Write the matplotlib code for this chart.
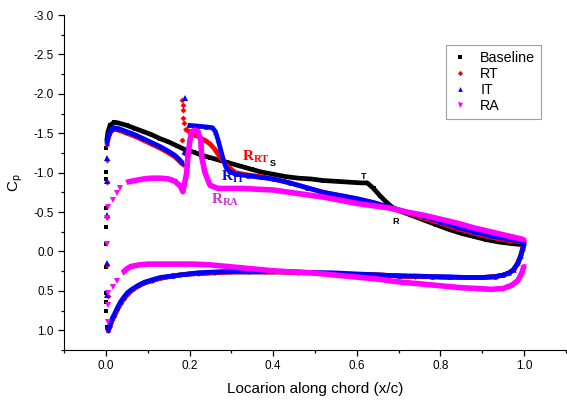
import numpy as np
import matplotlib
matplotlib.use("Agg")
import matplotlib.pyplot as plt
from matplotlib.ticker import MultipleLocator

plt.rcParams['font.family'] = ['Liberation Sans', 'DejaVu Sans']
plt.rcParams['mathtext.fontset'] = 'custom'
plt.rcParams['mathtext.rm'] = 'Liberation Serif'
plt.rcParams['mathtext.bf'] = 'Liberation Serif:bold'

# ---- Baseline ----
base_up_x = [0.002, 0.005, 0.01, 0.02, 0.03, 0.05, 0.07, 0.09, 0.11, 0.13, 0.15, 0.17, 0.19, 0.21,
             0.23, 0.25, 0.27, 0.29, 0.31, 0.33, 0.35, 0.37, 0.40, 0.43, 0.46, 0.49, 0.52, 0.55,
             0.58, 0.61, 0.625, 0.64, 0.655, 0.67, 0.685, 0.70, 0.73, 0.76, 0.79, 0.82, 0.85,
             0.88, 0.91, 0.94, 0.97, 0.99, 1.0]
base_up_cp = [-1.40, -1.52, -1.60, -1.64, -1.63, -1.60, -1.56, -1.52, -1.48, -1.43, -1.39, -1.34,
              -1.29, -1.26, -1.22, -1.19, -1.16, -1.13, -1.10, -1.07, -1.04, -1.01, -0.98, -0.95,
              -0.93, -0.92, -0.90, -0.89, -0.88, -0.87, -0.87, -0.80, -0.71, -0.63, -0.56, -0.52,
              -0.46, -0.40, -0.34, -0.28, -0.23, -0.19, -0.15, -0.12, -0.10, -0.09, -0.09]
base_lo_x = [0.003, 0.006, 0.01, 0.015, 0.02, 0.027, 0.035, 0.043, 0.052, 0.062, 0.077, 0.092,
             0.11, 0.13, 0.16, 0.19, 0.22, 0.26, 0.30, 0.34, 0.38, 0.42, 0.46, 0.50, 0.54, 0.58,
             0.62, 0.66, 0.70, 0.74, 0.78, 0.82, 0.86, 0.90, 0.93, 0.95, 0.965, 0.975, 0.985,
             0.992, 0.997, 1.0]
base_lo_cp = [0.96, 1.00, 0.94, 0.87, 0.82, 0.74, 0.66, 0.60, 0.54, 0.49, 0.44, 0.40, 0.37, 0.34,
              0.31, 0.29, 0.28, 0.27, 0.26, 0.26, 0.26, 0.26, 0.27, 0.27, 0.28, 0.29, 0.29, 0.30,
              0.31, 0.32, 0.32, 0.33, 0.33, 0.33, 0.32, 0.30, 0.27, 0.23, 0.15, 0.06, -0.03, -0.09]
base_le_x = [0.0, 0.0, 0.0, 0.0, 0.0, 0.0, 0.0, 0.0, 0.001, 0.001]
base_le_cp = [-1.31, -1.01, -0.92, -0.55, -0.31, -0.10, 0.20, 0.53, 0.64, 0.75]

# ---- RT ----
rt_up1_x = [0.002, 0.008, 0.015, 0.02, 0.03, 0.05, 0.07, 0.09, 0.11, 0.13, 0.15, 0.165, 0.175, 0.184]
rt_up1_cp = [-1.35, -1.48, -1.54, -1.55, -1.54, -1.50, -1.46, -1.41, -1.36, -1.31, -1.25, -1.20,
             -1.15, -1.10]
rt_up2_x = [0.19, 0.20, 0.21, 0.22, 0.23, 0.24, 0.25, 0.26, 0.27, 0.28, 0.29, 0.30, 0.31,
            0.34, 0.37, 0.40, 0.44, 0.48, 0.52, 0.56, 0.60, 0.64, 0.68, 0.72, 0.76, 0.80, 0.84,
            0.88, 0.92, 0.96, 1.0]
rt_up2_cp = [-1.55, -1.52, -1.48, -1.46, -1.43, -1.40, -1.36, -1.30, -1.22, -1.15, -1.09, -1.04,
             -1.00, -0.97, -0.95, -0.92, -0.87, -0.81, -0.75, -0.71, -0.67, -0.62, -0.55, -0.49,
             -0.42, -0.36, -0.29, -0.23, -0.18, -0.14, -0.12]
rt_lo_x = [0.003, 0.006, 0.01, 0.015, 0.02, 0.027, 0.035, 0.043, 0.052, 0.062, 0.077, 0.092,
           0.11, 0.13, 0.16, 0.19, 0.22, 0.26, 0.30, 0.34, 0.38, 0.42, 0.46, 0.50, 0.54, 0.58,
           0.62, 0.66, 0.70, 0.74, 0.78, 0.82, 0.86, 0.90, 0.93, 0.95, 0.965, 0.975, 0.985,
           0.992, 0.997, 1.0]
rt_lo_cp = [0.97, 1.01, 0.95, 0.87, 0.82, 0.74, 0.66, 0.60, 0.54, 0.49, 0.44, 0.40, 0.37, 0.34,
            0.31, 0.29, 0.28, 0.27, 0.26, 0.26, 0.26, 0.26, 0.27, 0.27, 0.28, 0.29, 0.29, 0.30,
            0.31, 0.32, 0.32, 0.33, 0.33, 0.33, 0.32, 0.30, 0.27, 0.23, 0.15, 0.05, -0.05, -0.14]
rt_sc_x = [0.002, 0.002, 0.002, 0.003, 0.004, 0.183, 0.184, 0.184, 0.185, 0.186, 0.181, 0.187]
rt_sc_cp = [-1.16, -0.88, -0.44, 0.17, 0.57, -1.92, -1.86, -1.79, -1.69, -1.63, -1.41, -1.25]

# ---- IT ----
it_up1_x = [0.002, 0.008, 0.015, 0.02, 0.03, 0.05, 0.07, 0.09, 0.11, 0.13, 0.15, 0.165, 0.175, 0.184]
it_up1_cp = [-1.37, -1.50, -1.56, -1.57, -1.56, -1.52, -1.48, -1.43, -1.38, -1.33, -1.27, -1.22,
             -1.17, -1.12]
it_up2_x = [0.196, 0.20, 0.22, 0.24, 0.255, 0.262, 0.268, 0.274, 0.28, 0.287, 0.295,
            0.31, 0.34, 0.37, 0.40, 0.44, 0.48, 0.52, 0.56, 0.60, 0.64, 0.68, 0.72, 0.76, 0.80,
            0.84, 0.88, 0.92, 0.96, 1.0]
it_up2_cp = [-1.60, -1.60, -1.59, -1.58, -1.57, -1.52, -1.42, -1.30, -1.18, -1.07, -1.02, -0.98,
             -0.96, -0.94, -0.92, -0.87, -0.81, -0.75, -0.71, -0.67, -0.62, -0.56, -0.50, -0.44,
             -0.38, -0.31, -0.25, -0.20, -0.16, -0.12]
it_lo_x = [0.003, 0.006, 0.01, 0.015, 0.02, 0.027, 0.035, 0.043, 0.052, 0.062, 0.077, 0.092,
           0.11, 0.13, 0.16, 0.19, 0.22, 0.26, 0.30, 0.34, 0.38, 0.42, 0.46, 0.50, 0.54, 0.58,
           0.62, 0.66, 0.70, 0.74, 0.78, 0.82, 0.86, 0.90, 0.93, 0.95, 0.965, 0.975, 0.985,
           0.992, 0.997, 1.0]
it_lo_cp = [0.95, 0.99, 0.93, 0.85, 0.80, 0.72, 0.64, 0.58, 0.52, 0.48, 0.43, 0.39, 0.36, 0.33,
            0.31, 0.29, 0.27, 0.26, 0.25, 0.25, 0.25, 0.25, 0.26, 0.27, 0.27, 0.28, 0.29, 0.30,
            0.31, 0.31, 0.32, 0.32, 0.33, 0.33, 0.32, 0.30, 0.27, 0.23, 0.15, 0.06, -0.04, -0.12]
it_sc_x = [0.002, 0.002, 0.002, 0.002, 0.002, 0.189, 0.190]
it_sc_cp = [-1.18, -0.90, -0.46, 0.15, 0.55, -1.26, -1.95]

# ---- RA ----
ra_up_x = [0.05, 0.07, 0.09, 0.11, 0.13, 0.15, 0.165, 0.178, 0.184, 0.193, 0.196, 0.201, 0.205,
           0.213, 0.220, 0.227, 0.229, 0.237, 0.249, 0.268, 0.30, 0.33, 0.36, 0.40, 0.44, 0.48,
           0.52, 0.56, 0.60, 0.64, 0.68, 0.72, 0.76, 0.80, 0.84, 0.88, 0.92, 0.96, 1.0]
ra_up_cp = [-0.88, -0.90, -0.92, -0.93, -0.93, -0.92, -0.89, -0.83, -0.76, -0.99, -1.20, -1.41,
            -1.52, -1.54, -1.52, -1.41, -1.20, -1.00, -0.84, -0.80, -0.80, -0.80, -0.79, -0.78,
            -0.75, -0.72, -0.69, -0.65, -0.61, -0.58, -0.55, -0.50, -0.46, -0.41, -0.36, -0.30,
            -0.25, -0.20, -0.15]
ra_lo_x = [0.04, 0.05, 0.06, 0.08, 0.10, 0.13, 0.17, 0.21, 0.25, 0.29, 0.33, 0.37, 0.41, 0.45,
           0.49, 0.53, 0.57, 0.61, 0.65, 0.69, 0.73, 0.77, 0.81, 0.85, 0.89, 0.92, 0.95, 0.97,
           0.985, 0.995, 1.0]
ra_lo_cp = [0.27, 0.22, 0.19, 0.17, 0.16, 0.16, 0.16, 0.16, 0.17, 0.19, 0.21, 0.23, 0.25, 0.26,
            0.27, 0.29, 0.31, 0.33, 0.35, 0.38, 0.40, 0.42, 0.44, 0.46, 0.47, 0.48, 0.47, 0.43,
            0.37, 0.27, 0.18]
ra_sc_x = [0.003, 0.005, 0.017, 0.026, 0.034, 0.003, 0.027, 0.017, 0.004, 0.005, 0.005]
ra_sc_cp = [-0.10, -0.56, -0.65, -0.74, -0.80, -0.42, 0.38, 0.45, 0.53, 0.68, 0.90]

series = [
    ("Baseline", "black", "s", 2.6, [(base_up_x, base_up_cp), (base_lo_x, base_lo_cp)],
     base_le_x, base_le_cp),
    ("RT", "#ff0000", "D", 2.4, [(rt_up1_x, rt_up1_cp), (rt_up2_x, rt_up2_cp), (rt_lo_x, rt_lo_cp)],
     rt_sc_x, rt_sc_cp),
    ("IT", "#0000ff", "^", 3.2, [(it_up1_x, it_up1_cp), (it_up2_x, it_up2_cp), (it_lo_x, it_lo_cp)],
     it_sc_x, it_sc_cp),
    ("RA", "#ff00ff", "v", 3.4, [(ra_up_x, ra_up_cp), (ra_lo_x, ra_lo_cp)], ra_sc_x, ra_sc_cp),
]

fig = plt.figure(figsize=(5.67, 4.0), dpi=100)
ax = fig.add_axes([0.113, 0.125, 0.885, 0.8375])

for name, c, m, ms, parts, sx, sc in series:
    lw = 4.0 if name == "RA" else 3.4
    for px, pc in parts:
        ax.plot(px, pc, color=c, lw=lw, marker=m, ms=ms, mew=0, solid_capstyle='butt')
    ax.plot(sx, sc, ls='none', color=c, marker=m, ms=ms + 0.6, mew=0, label=name)

# annotations
ax.text(0.40, -1.11, "S", fontsize=6.5, fontweight='bold', ha='center', va='center')
ax.text(0.617, -0.95, "T", fontsize=6.5, fontweight='bold', ha='center', va='center')
ax.text(0.694, -0.38, "R", fontsize=6.5, fontweight='bold', ha='center', va='center')
ax.text(0.326, -1.20, r"$\mathbf{R_{RT}}$", color='#ff0000', fontsize=11, ha='left', va='center')
ax.text(0.276, -0.94, r"$\mathbf{R_{IT}}$", color='#0000ff', fontsize=11, ha='left', va='center')
ax.text(0.252, -0.65, r"$\mathbf{R_{RA}}$", color='#cc33cc', fontsize=11, ha='left', va='center')

ax.set_xlim(-0.1, 1.1)
ax.set_ylim(1.25, -3.0)
ax.xaxis.set_minor_locator(MultipleLocator(0.1))
ax.yaxis.set_minor_locator(MultipleLocator(0.25))
ax.set_xticks([0.0, 0.2, 0.4, 0.6, 0.8, 1.0])
ax.set_xticklabels(["0.0", "0.2", "0.4", "0.6", "0.8", "1.0"])
ax.set_yticks([-3.0, -2.5, -2.0, -1.5, -1.0, -0.5, 0.0, 0.5, 1.0])
ax.set_yticklabels(["-3.0", "-2.5", "-2.0", "-1.5", "-1.0", "-0.5", "0.0", "0.5", "1.0"])
ax.tick_params(which='major', direction='out', length=4, width=0.9, labelsize=8.5)
ax.tick_params(which='minor', direction='out', length=2.5, width=0.9)
ax.spines['top'].set_visible(False)
ax.spines['right'].set_visible(False)
ax.set_xlabel("Locarion along chord (x/c)", fontsize=11, labelpad=7)
ax.set_ylabel(r"$\mathregular{C_p}$", fontsize=11, labelpad=6)

leg = ax.legend(loc='upper left', bbox_to_anchor=(0.761, 0.91), borderaxespad=0, fontsize=10.3,
                frameon=True, fancybox=False, edgecolor='#888888', handlelength=1.2,
                handletextpad=0.8, borderpad=0.4, labelspacing=0.15, markerscale=0.9)
leg.get_frame().set_linewidth(0.8)

fig.savefig("out.png", dpi=100)
